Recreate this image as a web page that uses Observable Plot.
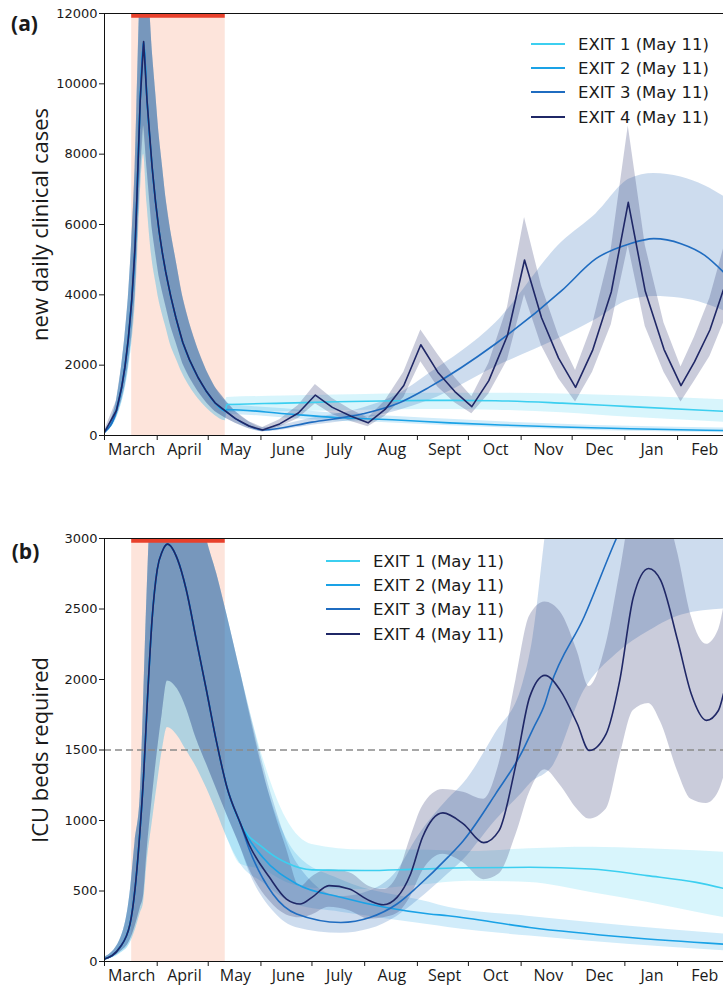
<!DOCTYPE html>
<html><head><meta charset="utf-8">
<script src="https://cdn.jsdelivr.net/npm/d3@7"></script>
<script src="https://cdn.jsdelivr.net/npm/@observablehq/plot@0.6"></script>
<style>
body{margin:0;background:#fff;width:723px;height:988px;overflow:hidden;}
#chart svg{display:block;}
</style></head><body><div id="chart"></div>
<script>
// ---------- data ----------
const lockdown = ["2020-03-17", "2020-05-11"];
const monthLabels = ["March","April","May","June","July","Aug","Sept","Oct","Nov","Dec","Jan","Feb"];
const exitNames = ["EXIT 1 (May 11)","EXIT 2 (May 11)","EXIT 3 (May 11)","EXIT 4 (May 11)"];
const casesTicks = [0, 2000, 4000, 6000, 8000, 10000, 12000];
const icuTicks = [0, 500, 1000, 1500, 2000, 2500, 3000];
const icuCapacity = [1500];

// (a) common lockdown phase: [date, mean, lo (EXIT3/4 band), hi, lo (EXIT1/2 band)]
const casesCommon = [
  ["2020-03-01", 94, 60, 140, 55],
  ["2020-03-08", 711, 520, 980, 480],
  ["2020-03-11", 1350, 980, 1950, 900],
  ["2020-03-13", 1944, 1400, 2800, 1300],
  ["2020-03-15", 2750, 2000, 3900, 1850],
  ["2020-03-17", 3842, 2800, 5500, 2600],
  ["2020-03-19", 5400, 4000, 7600, 3700],
  ["2020-03-20", 6688, 5000, 9300, 4600],
  ["2020-03-22", 9533, 7300, 12800, 6800],
  ["2020-03-24", 11200, 8800, 14500, 8000],
  ["2020-03-26", 9533, 7600, 13500, 6600],
  ["2020-03-29", 7635, 5900, 11000, 5000],
  ["2020-03-31", 6650, 5200, 9800, 4400],
  ["2020-04-02", 5850, 4550, 8600, 3850],
  ["2020-04-04", 5200, 4100, 7700, 3450],
  ["2020-04-06", 4650, 3700, 6800, 3100],
  ["2020-04-09", 3950, 3100, 5800, 2550],
  ["2020-04-12", 3350, 2650, 5000, 2200],
  ["2020-04-16", 2650, 2050, 3950, 1750],
  ["2020-04-20", 2150, 1650, 3200, 1400],
  ["2020-04-25", 1650, 1250, 2450, 1050],
  ["2020-04-30", 1250, 930, 1850, 780],
  ["2020-05-05", 930, 680, 1380, 570],
  ["2020-05-11", 700, 500, 1000, 420]
];
// (a) after exit: [date, mean, lo, hi]
const casesExit1 = [
  ["2020-05-12", 880, 650, 1080], ["2020-06-15", 920, 680, 1120], ["2020-07-15", 960, 700, 1150],
  ["2020-08-20", 990, 730, 1190], ["2020-09-20", 1000, 740, 1200], ["2020-10-17", 990, 720, 1200],
  ["2020-11-25", 920, 650, 1180], ["2021-01-04", 820, 520, 1120], ["2021-02-28", 690, 380, 1020]
];
const casesExit2 = [
  ["2020-05-12", 740, 600, 900], ["2020-06-15", 620, 500, 760], ["2020-07-15", 510, 410, 630],
  ["2020-08-20", 440, 350, 540], ["2020-09-20", 360, 280, 460], ["2020-10-20", 300, 220, 390],
  ["2020-11-25", 240, 170, 320], ["2021-01-04", 190, 120, 260], ["2021-02-28", 140, 80, 210]
];
const casesExit3 = [
  ["2020-05-17", 480, 350, 680], ["2020-05-25", 270, 190, 390], ["2020-06-02", 155, 105, 230],
  ["2020-07-01", 380, 290, 490], ["2020-07-31", 617, 480, 780], ["2020-08-20", 902, 700, 1150],
  ["2020-09-08", 1375, 1000, 1760], ["2020-10-17", 2609, 1950, 3200], ["2020-11-25", 4126, 2800, 5500],
  ["2020-12-15", 5028, 3300, 6300], ["2021-01-04", 5455, 3850, 7300], ["2021-01-18", 5598, 3950, 7450],
  ["2021-02-03", 5455, 3900, 7350], ["2021-02-17", 5122, 3750, 7100], ["2021-02-28", 4647, 3550, 6800]
];
const casesExit4 = [
  ["2020-05-17", 480, 350, 680], ["2020-05-25", 270, 190, 390], ["2020-06-02", 155, 100, 230],
  ["2020-06-12", 330, 240, 450], ["2020-06-23", 640, 480, 850], ["2020-07-03", 1150, 900, 1450],
  ["2020-07-13", 800, 600, 1050], ["2020-07-24", 550, 400, 730], ["2020-08-03", 360, 250, 500],
  ["2020-08-13", 740, 550, 980], ["2020-08-24", 1420, 1080, 1800], ["2020-09-03", 2580, 2100, 3000],
  ["2020-09-13", 1800, 1380, 2300], ["2020-09-23", 1250, 930, 1650], ["2020-10-03", 820, 617, 1100],
  ["2020-10-13", 1560, 1180, 2050], ["2020-10-24", 2850, 2150, 3650], ["2020-11-03", 4990, 4000, 6200],
  ["2020-11-13", 3350, 2550, 4250], ["2020-11-23", 2200, 1620, 2850], ["2020-12-03", 1370, 950, 1850],
  ["2020-12-13", 2420, 1800, 3150], ["2020-12-24", 4080, 3150, 5300], ["2021-01-03", 6630, 5400, 8800],
  ["2021-01-13", 4100, 3100, 5400], ["2021-01-24", 2450, 1800, 3200], ["2021-02-03", 1420, 950, 1950],
  ["2021-02-11", 2100, 1550, 2800], ["2021-02-20", 3000, 2250, 3900], ["2021-02-28", 4150, 3200, 5300]
];

// (b) common phase: [date, mean, lo (EXIT3/4 band), hi, lo (EXIT1/2 band)]
const icuCommon = [
  ["2020-03-01", 17, 10, 28, 8],
  ["2020-03-10", 99, 65, 150, 55],
  ["2020-03-16", 265, 150, 480, 130],
  ["2020-03-19", 520, 250, 850, 220],
  ["2020-03-22", 950, 380, 1170, 340],
  ["2020-03-24", 1320, 470, 1850, 420],
  ["2020-03-26", 1800, 780, 2600, 700],
  ["2020-03-29", 2430, 1150, 3400, 980],
  ["2020-04-01", 2780, 1480, 3600, 1250],
  ["2020-04-04", 2910, 1760, 3700, 1500],
  ["2020-04-07", 2960, 1990, 3700, 1660],
  ["2020-04-13", 2850, 1930, 3700, 1600],
  ["2020-04-18", 2640, 1800, 3600, 1500],
  ["2020-04-24", 2280, 1580, 3350, 1380],
  ["2020-04-30", 1920, 1400, 3000, 1230],
  ["2020-05-06", 1550, 1220, 2750, 1060],
  ["2020-05-12", 1236, 1040, 2460, 880],
  ["2020-05-20", 976, 810, 2050, 690]
];
const icuExit1 = [
  ["2020-06-02", 810, 650, 1450], ["2020-06-16", 700, 560, 1010], ["2020-07-01", 650, 520, 830],
  ["2020-08-01", 645, 510, 790], ["2020-09-01", 655, 540, 790], ["2020-10-01", 665, 570, 780],
  ["2020-11-06", 668, 560, 800], ["2020-12-12", 656, 490, 810], ["2021-01-14", 609, 420, 800],
  ["2021-02-12", 561, 350, 785], ["2021-02-28", 519, 312, 774]
];
const icuExit2 = [
  ["2020-06-02", 739, 560, 1350], ["2020-06-22", 550, 400, 760], ["2020-07-18", 455, 350, 580],
  ["2020-09-08", 337, 260, 420], ["2020-09-19", 325, 241, 384], ["2020-11-06", 241, 180, 320],
  ["2021-01-04", 170, 120, 250], ["2021-02-28", 123, 76, 195]
];
const icuExit3 = [
  ["2020-05-25", 800, 640, 1800], ["2020-06-08", 479, 360, 1150], ["2020-06-22", 337, 240, 700],
  ["2020-07-18", 277, 200, 460], ["2020-08-04", 312, 230, 500], ["2020-08-20", 408, 320, 640],
  ["2020-09-01", 530, 430, 880], ["2020-09-19", 740, 620, 1150], ["2020-09-28", 857, 720, 1260],
  ["2020-10-17", 1189, 1000, 1620], ["2020-11-02", 1497, 1200, 1970], ["2020-11-08", 1650, 1280, 2300],
  ["2020-11-15", 1830, 1330, 3000], ["2020-11-18", 1946, 1360, 3300], ["2020-12-08", 2443, 1920, 3800],
  ["2020-12-27", 3000, 2180, 4200], ["2021-01-16", 3500, 2350, 4500], ["2021-02-04", 3950, 2460, 4700],
  ["2021-02-28", 4400, 2500, 4900]
];
const icuExit4 = [
  ["2020-05-25", 830, 660, 1780], ["2020-06-06", 597, 430, 1180], ["2020-06-16", 443, 330, 800],
  ["2020-06-24", 408, 310, 530], ["2020-07-01", 455, 330, 600], ["2020-07-11", 538, 384, 650],
  ["2020-07-23", 514, 360, 630], ["2020-08-04", 431, 300, 530], ["2020-08-12", 403, 310, 510],
  ["2020-08-20", 455, 340, 600], ["2020-08-28", 621, 460, 880], ["2020-09-04", 881, 640, 1100],
  ["2020-09-16", 1054, 760, 1220], ["2020-09-28", 976, 700, 1200], ["2020-10-10", 843, 580, 1150],
  ["2020-10-19", 928, 620, 1400], ["2020-10-29", 1402, 900, 2000], ["2020-11-06", 1875, 1200, 2450],
  ["2020-11-15", 2029, 1360, 2550], ["2020-11-24", 1923, 1250, 2480], ["2020-12-04", 1686, 1080, 2200],
  ["2020-12-11", 1497, 1010, 1950], ["2020-12-21", 1615, 1080, 2250], ["2020-12-29", 1994, 1450, 2750],
  ["2021-01-06", 2585, 1780, 3250], ["2021-01-15", 2787, 1830, 3350], ["2021-01-22", 2704, 1700, 3300],
  ["2021-02-01", 2278, 1350, 2900], ["2021-02-09", 1899, 1150, 2450], ["2021-02-18", 1710, 1120, 2250],
  ["2021-02-25", 1780, 1200, 2350], ["2021-02-28", 1899, 1300, 2500]
];

// ---------- styles ----------
const lineColors = ["#3ccff0", "#1aa2e6", "#1f6cc0", "#1f2766"];
const bandColors = ["#3ccff0", "#1aa2e6", "#2f6cb8", "#2a3270"];
const bandOpacities = [0.2, 0.2, 0.24, 0.25];

// ---------- build ----------
const parse = s => new Date(s + "T00:00:00Z");
const xDomain = [parse("2020-03-01"), parse("2021-02-28")];
const monthStarts = d3.utcMonths(parse("2020-03-01"), parse("2021-03-01"));
const labelDates = monthStarts.map(d => d3.utcDay.offset(d, 16));

function build(common, exits) {
  return exits.map((rows, k) => {
    const pre = common.map(r => ({date: parse(r[0]), mean: r[1], lo: k < 2 ? r[4] : r[2], hi: r[3]}));
    const post = rows.map(r => ({date: parse(r[0]), mean: r[1], lo: r[2], hi: r[3]}));
    return pre.concat(post);
  });
}

function panel({series, curves, yMax, yTicks, height, marginTop, marginBottom, ylabel, tag, tagDx, tagDy, extra}) {
  const bands = series.map((s, k) => Plot.areaY(s, {x: "date", y1: "lo", y2: "hi", fill: bandColors[k], fillOpacity: bandOpacities[k], curve: curves[k], clip: true}));
  const lines = series.map((s, k) => Plot.line(s, {x: "date", y: "mean", stroke: lineColors[k], strokeWidth: 1.6, curve: curves[k], clip: true}));
  return Plot.plot({
    width: 723, height, marginLeft: 104, marginRight: 0, marginTop, marginBottom,
    style: {fontFamily: "'DejaVu Sans', sans-serif", fontSize: "13px", color: "#1a1a1a", background: "transparent", overflow: "visible"},
    x: {type: "utc", domain: xDomain, axis: null},
    y: {domain: [0, yMax], axis: null},
    marks: [
      Plot.rect([lockdown], {x1: d => parse(d[0]), x2: d => parse(d[1]), fill: "#fde4db"}),
      ...bands,
      ...(extra || []),
      ...lines,
      Plot.ruleY([yMax], {x1: parse(lockdown[0]), x2: parse(lockdown[1]), stroke: "#e8412c", strokeWidth: 4.5, dy: 2}),
      Plot.ruleX([xDomain[0]], {stroke: "#111"}),
      Plot.ruleY([0], {stroke: "#111"}),
      Plot.ruleY([yMax], {stroke: "#111"}),
      Plot.axisY({ticks: yTicks, tickSize: 5, tickPadding: 2, tickFormat: d => String(d), label: null, fontSize: 13}),
      Plot.axisX({ticks: monthStarts, tickSize: 5, tickFormat: () => "", label: null}),
      Plot.axisX({ticks: labelDates, tickSize: 0, tickPadding: 8, label: null, fontSize: 16, fontFamily: "'Open Sans', sans-serif",
        tickFormat: d => monthLabels[labelDates.findIndex(t => +t === +d)]}),
      Plot.text([ylabel], {frameAnchor: "left", rotate: -90, dx: -64, textAnchor: "middle", fontSize: 22, fontFamily: "'Open Sans', sans-serif", fill: "#1a1a1a"}),
      Plot.text([tag], {frameAnchor: "top-left", dx: tagDx, dy: tagDy, textAnchor: "middle", lineAnchor: "middle", fontSize: 21, fontWeight: "bold", fontFamily: "'Open Sans', sans-serif", fill: "#1a1a1a"})
    ]
  });
}

function addLegend(svg, x0, yRows) {
  const g = d3.select(svg).append("g").attr("text-anchor", "start");
  exitNames.forEach((name, k) => {
    g.append("line").attr("x1", x0).attr("x2", x0 + 34).attr("y1", yRows[k]).attr("y2", yRows[k])
      .attr("stroke", lineColors[k]).attr("stroke-width", 2);
    g.append("text").attr("x", x0 + 47).attr("y", yRows[k]).attr("dy", "0.35em").attr("text-anchor", "start")
      .attr("font-family", "'DejaVu Sans', sans-serif").attr("font-size", 16.5).attr("fill", "#1a1a1a").text(name);
  });
}

const casesSeries = build(casesCommon, [casesExit1, casesExit2, casesExit3, casesExit4]);
const icuSeries = build(icuCommon, [icuExit1, icuExit2, icuExit3, icuExit4]);

const svgA = panel({series: casesSeries, curves: ["monotone-x", "monotone-x", "monotone-x", "linear"],
  yMax: 12000, yTicks: casesTicks, height: 494, marginTop: 13, marginBottom: 59,
  ylabel: "new daily clinical cases", tag: "(a)", tagDx: -80, tagDy: 11});
addLegend(svgA, 531, [44, 68, 92, 117]);

const svgB = panel({series: icuSeries, curves: ["monotone-x", "monotone-x", "monotone-x", "monotone-x"],
  yMax: 3000, yTicks: icuTicks, height: 494, marginTop: 44, marginBottom: 27,
  ylabel: "ICU beds required", tag: "(b)", tagDx: -79, tagDy: 14,
  extra: [Plot.ruleY(icuCapacity, {stroke: "#8a8a8a", strokeWidth: 1.5, strokeDasharray: "7,4"})]});
addLegend(svgB, 326, [67, 91, 115, 140]);

document.getElementById("chart").append(svgA, svgB);
</script></body></html>
